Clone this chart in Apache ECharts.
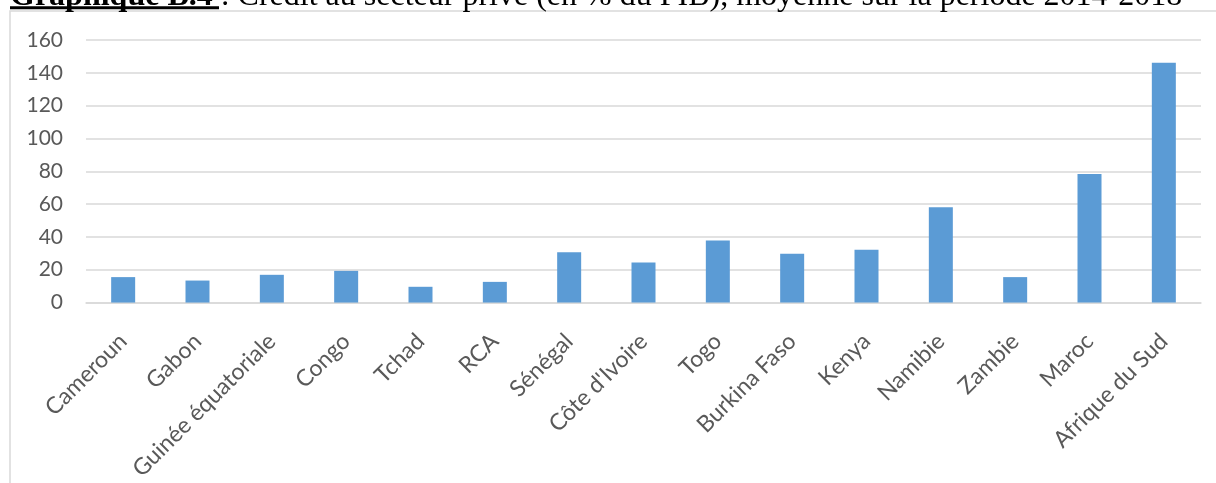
<!DOCTYPE html>
<html>
<head>
<meta charset="utf-8">
<style>
  html, body { margin: 0; padding: 0; background: #ffffff; }
  #chart { width: 1216px; height: 483px; }
</style>
<script src="https://cdn.jsdelivr.net/npm/echarts@6/dist/echarts.min.js"></script>
</head>
<body>
<div id="chart"></div>
<script>
const titleBold = 'Graphique B.4 ';
const titleRest = ': Crédit au secteur privé (en % du PIB), moyenne sur la période 2014-2018';

const categories = ['Cameroun', 'Gabon', 'Guinée équatoriale', 'Congo', 'Tchad', 'RCA', 'Sénégal',
  "Côte d'Ivoire", 'Togo', 'Burkina Faso', 'Kenya', 'Namibie', 'Zambie', 'Maroc', 'Afrique du Sud'];
const creditValues = [15.5, 13.4, 16.9, 19.3, 9.6, 12.6, 30.7, 24.4, 37.8, 29.8, 32.1, 58.1, 15.5, 78.4, 146.2];
const yTicks = { min: 0, max: 160, interval: 20 };

const chart = echarts.init(document.getElementById('chart'), null, { renderer: 'canvas' });
const labelFont = 'Lato';
chart.setOption({
  animation: false,
  backgroundColor: '#ffffff',
  graphic: [
    { type: 'rect', silent: true, z: -10,
      shape: { x: 10, y: 11, width: 1400, height: 700 },
      style: { fill: 'none', stroke: '#d9d9d9', lineWidth: 1.5 } },
    { type: 'text', x: 10, y: -3,
      style: {
        text: '{b|' + titleBold + '}' + titleRest,
        font: '32px "Liberation Serif"',
        fill: '#000000',
        verticalAlign: 'middle',
        rich: { b: { font: 'bold 32px "Liberation Serif"', fill: '#000000' } }
      } },
    { type: 'line', shape: { x1: 10, y1: 7.7, x2: 219, y2: 7.7 },
      style: { stroke: '#000000', lineWidth: 3 } }
  ],
  grid: { left: 86, right: 15, top: 40, bottom: 180.3, containLabel: false },
  xAxis: {
    type: 'category',
    data: categories,
    axisLine: { show: true, lineStyle: { color: '#d9d9d9', width: 1.5 } },
    axisTick: { show: false },
    axisLabel: { rotate: 45, interval: 0, margin: 35, color: '#595959', fontFamily: labelFont, fontSize: 23 }
  },
  yAxis: {
    type: 'value',
    min: yTicks.min, max: yTicks.max, interval: yTicks.interval,
    axisLine: { show: false },
    axisTick: { show: false },
    splitLine: { lineStyle: { color: '#d9d9d9', width: 1.5 } },
    axisLabel: { margin: 23, color: '#595959', fontFamily: labelFont, fontSize: 21 }
  },
  series: [{
    type: 'bar',
    data: creditValues,
    barWidth: 24,
    itemStyle: { color: '#5b9bd5' }
  }]
});
</script>
</body>
</html>
